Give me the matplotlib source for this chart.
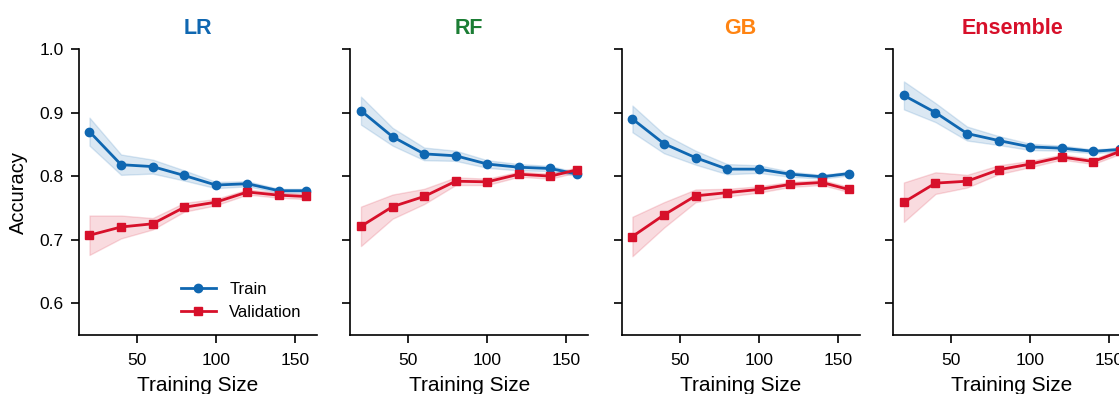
import matplotlib
matplotlib.use("Agg")
import matplotlib.pyplot as plt
import numpy as np

plt.rcParams["font.family"] = ["Liberation Sans", "DejaVu Sans"]

train_sizes = [20, 40, 60, 80, 100, 120, 140, 157]

models = ["LR", "RF", "GB", "Ensemble"]
title_colors = ["#0f67b1", "#1b7d34", "#ff8412", "#d7102a"]

lr_train = [0.870, 0.818, 0.815, 0.801, 0.786, 0.788, 0.777, 0.777]
lr_train_std = [0.022, 0.016, 0.011, 0.008, 0.005, 0.004, 0.003, 0.003]
lr_val = [0.707, 0.720, 0.725, 0.751, 0.759, 0.775, 0.770, 0.768]
lr_val_std = [0.031, 0.018, 0.009, 0.007, 0.005, 0.004, 0.004, 0.004]

rf_train = [0.903, 0.862, 0.835, 0.832, 0.819, 0.814, 0.812, 0.803]
rf_train_std = [0.022, 0.014, 0.010, 0.008, 0.006, 0.005, 0.004, 0.003]
rf_val = [0.721, 0.752, 0.768, 0.792, 0.791, 0.803, 0.800, 0.810]
rf_val_std = [0.031, 0.019, 0.012, 0.006, 0.005, 0.004, 0.004, 0.004]

gb_train = [0.890, 0.851, 0.829, 0.811, 0.811, 0.803, 0.799, 0.804]
gb_train_std = [0.021, 0.015, 0.011, 0.008, 0.006, 0.004, 0.003, 0.003]
gb_val = [0.705, 0.739, 0.769, 0.774, 0.779, 0.787, 0.790, 0.779]
gb_val_std = [0.031, 0.020, 0.010, 0.006, 0.005, 0.004, 0.004, 0.004]

ens_train = [0.927, 0.900, 0.867, 0.856, 0.846, 0.844, 0.839, 0.842]
ens_train_std = [0.022, 0.015, 0.011, 0.007, 0.005, 0.004, 0.003, 0.003]
ens_val = [0.759, 0.789, 0.792, 0.810, 0.819, 0.830, 0.823, 0.839]
ens_val_std = [0.031, 0.017, 0.010, 0.007, 0.005, 0.004, 0.004, 0.004]

curves = [
    (lr_train, lr_train_std, lr_val, lr_val_std),
    (rf_train, rf_train_std, rf_val, rf_val_std),
    (gb_train, gb_train_std, gb_val, gb_val_std),
    (ens_train, ens_train_std, ens_val, ens_val_std),
]

train_color = "#0f67b1"
val_color = "#d7102a"

fig = plt.figure(figsize=(11.19, 3.94), dpi=100)
x = np.array(train_sizes)

axes = []
for i, (name, tcol, (tr, tr_sd, va, va_sd)) in enumerate(zip(models, title_colors, curves)):
    ax = fig.add_axes([0.0703 + i * 0.2426, 0.1497, 0.2127, 0.7259],
                      sharey=axes[0] if axes else None)
    axes.append(ax)
    tr, tr_sd, va, va_sd = map(np.array, (tr, tr_sd, va, va_sd))

    ax.fill_between(x, tr - tr_sd, tr + tr_sd, color=train_color, alpha=0.15, linewidth=1)
    ax.fill_between(x, va - va_sd, va + va_sd, color=val_color, alpha=0.15, linewidth=1)
    ax.plot(x, tr, "-o", color=train_color, lw=2, ms=6, label="Train")
    ax.plot(x, va, "-s", color=val_color, lw=2, ms=6, label="Validation")

    ax.set_title(name, color=tcol, fontsize=15.5, fontweight="bold", pad=11)
    ax.set_xlabel("Training Size", fontsize=15, labelpad=6)
    ax.set_xticks([50, 100, 150])
    ax.set_ylim(0.55, 1.0)
    ax.set_yticks([0.6, 0.7, 0.8, 0.9, 1.0])
    ax.tick_params(axis="x", labelsize=12.5, length=6, width=1.2, pad=7)
    ax.tick_params(axis="y", labelsize=12.5, length=6, width=1.2, pad=5)
    for side in ("top", "right"):
        ax.spines[side].set_visible(False)
    for side in ("left", "bottom"):
        ax.spines[side].set_linewidth(1.2)
    if i == 0:
        ax.set_ylabel("Accuracy", fontsize=14.5, labelpad=8)
        ax.legend(loc="lower right", frameon=False, fontsize=12,
                  handlelength=2.1, borderaxespad=0.5)
    else:
        ax.tick_params(labelleft=False)

fig.savefig("out.png", dpi=100)
